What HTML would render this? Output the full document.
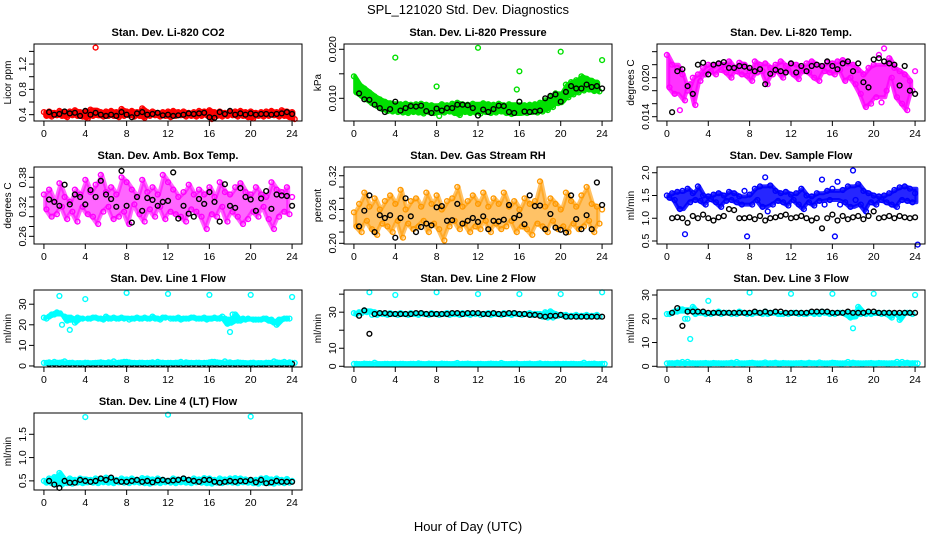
<!DOCTYPE html>
<html><head><meta charset="utf-8"><style>
body{margin:0;background:#fff;}
svg{display:block;font-family:"Liberation Sans",sans-serif;}
</style></head><body>
<svg id="fig" width="936" height="540" viewBox="0 0 936 540">
<text x="468" y="14" text-anchor="middle" font-size="13">SPL_121020  Std. Dev. Diagnostics</text>
<text x="468" y="531" text-anchor="middle" font-size="13">Hour of Day (UTC)</text>
</svg>
<script>
// ---- data (step 0.5 h; series A starts at 0 h, B at 0.25 h, black at 0.5 h) ----
const xTicks=[0,4,8,12,16,20,24];
const co2A=[0.44,0.45,0.43,0.46,0.44,0.45,0.47,0.44,0.45,0.48,1.46,0.44,0.45,0.46,0.44,0.49,0.45,0.46,0.44,0.50,0.44,0.45,0.43,0.44,0.45,0.46,0.44,0.45,0.43,0.44,0.46,0.45,0.47,0.44,0.45,0.43,0.44,0.45,0.46,0.44,0.45,0.43,0.44,0.45,0.46,0.44,0.47,0.45,0.44];
const co2B=[0.38,0.37,0.39,0.38,0.36,0.39,0.38,0.37,0.34,0.38,0.39,0.37,0.38,0.38,0.36,0.38,0.39,0.37,0.38,0.35,0.38,0.39,0.37,0.38,0.36,0.38,0.39,0.37,0.38,0.37,0.38,0.39,0.33,0.38,0.37,0.38,0.39,0.37,0.38,0.36,0.34,0.38,0.37,0.38,0.39,0.37,0.38,0.36,0.33];
const co2K=[0.44,0.40,0.41,0.45,0.42,0.43,0.38,0.46,0.40,0.43,0.40,0.38,0.40,0.38,0.44,0.40,0.36,0.42,0.44,0.40,0.41,0.43,0.39,0.40,0.38,0.39,0.40,0.42,0.41,0.42,0.43,0.36,0.35,0.44,0.41,0.46,0.40,0.42,0.40,0.42,0.40,0.41,0.41,0.40,0.41,0.42,0.44,0.41];
const presA=[0.0145,0.0128,0.0120,0.0112,0.0104,0.0098,0.0093,0.0090,0.0183,0.0088,0.0089,0.0087,0.0088,0.0089,0.0087,0.0086,0.0124,0.0088,0.0086,0.0089,0.0091,0.0088,0.0087,0.0089,0.0203,0.0090,0.0088,0.0087,0.0089,0.0086,0.0088,0.0085,0.0155,0.0086,0.0087,0.0088,0.0091,0.0096,0.0102,0.0110,0.0195,0.0128,0.0133,0.0137,0.0145,0.0140,0.0136,0.0132,0.0178];
const presB=[0.0112,0.0105,0.0098,0.0090,0.0084,0.0078,0.0074,0.0073,0.0072,0.0071,0.0070,0.0072,0.0071,0.0069,0.0072,0.0070,0.0064,0.0071,0.0073,0.0070,0.0066,0.0072,0.0070,0.0071,0.0069,0.0072,0.0070,0.0071,0.0073,0.0070,0.0068,0.0118,0.0071,0.0070,0.0072,0.0071,0.0073,0.0076,0.0082,0.0090,0.0096,0.0102,0.0108,0.0112,0.0116,0.0118,0.0115,0.0114];
const presK=[0.0110,0.0098,0.0097,0.0087,0.0080,0.0072,0.0078,0.0093,0.0075,0.0080,0.0084,0.0083,0.0085,0.0074,0.0070,0.0079,0.0075,0.0080,0.0080,0.0087,0.0087,0.0086,0.0080,0.0065,0.0077,0.0072,0.0078,0.0085,0.0084,0.0072,0.0070,0.0093,0.0073,0.0072,0.0073,0.0075,0.0100,0.0105,0.0108,0.0093,0.0113,0.0125,0.0120,0.0120,0.0128,0.0123,0.0125,0.0120];
const tempA=[0.0235,0.0220,0.0215,0.0205,0.0180,0.0200,0.0205,0.0215,0.0220,0.0218,0.0222,0.0220,0.0225,0.0215,0.0223,0.0220,0.0210,0.0225,0.0220,0.0222,0.0215,0.0220,0.0225,0.0218,0.0222,0.0220,0.0215,0.0222,0.0225,0.0220,0.0218,0.0223,0.0222,0.0225,0.0227,0.0222,0.0220,0.0212,0.0205,0.0215,0.0220,0.0235,0.0245,0.0230,0.0215,0.0210,0.0205,0.0195,0.0210];
const tempB=[0.0185,0.0175,0.0150,0.0165,0.0190,0.0158,0.0195,0.0205,0.0210,0.0205,0.0212,0.0208,0.0200,0.0210,0.0205,0.0203,0.0195,0.0208,0.0210,0.0190,0.0205,0.0210,0.0200,0.0212,0.0205,0.0198,0.0210,0.0208,0.0200,0.0195,0.0210,0.0208,0.0205,0.0212,0.0195,0.0200,0.0190,0.0175,0.0155,0.0160,0.0170,0.0162,0.0180,0.0200,0.0170,0.0160,0.0150,0.0180];
const tempK=[0.0147,0.0210,0.0213,0.0187,0.0175,0.0220,0.0223,0.0205,0.0220,0.0222,0.0224,0.0215,0.0215,0.0218,0.0217,0.0215,0.0210,0.0213,0.0190,0.0206,0.0212,0.0210,0.0208,0.0222,0.0208,0.0218,0.0210,0.0218,0.0220,0.0218,0.0225,0.0218,0.0213,0.0222,0.0225,0.0210,0.0222,0.0193,0.0185,0.0228,0.0230,0.0225,0.0222,0.0220,0.0188,0.0218,0.0180,0.0175];
const ambA=[0.345,0.355,0.330,0.368,0.340,0.330,0.355,0.345,0.375,0.350,0.365,0.385,0.350,0.360,0.345,0.380,0.370,0.355,0.340,0.375,0.350,0.360,0.345,0.385,0.370,0.355,0.340,0.350,0.365,0.345,0.355,0.345,0.360,0.340,0.370,0.350,0.345,0.360,0.368,0.350,0.345,0.360,0.345,0.340,0.370,0.355,0.350,0.360,0.340];
const ambB=[0.315,0.300,0.305,0.320,0.295,0.310,0.290,0.320,0.305,0.300,0.285,0.310,0.320,0.295,0.300,0.310,0.285,0.325,0.305,0.290,0.315,0.300,0.320,0.295,0.310,0.305,0.300,0.290,0.315,0.310,0.300,0.275,0.305,0.300,0.320,0.290,0.310,0.300,0.285,0.295,0.310,0.300,0.320,0.295,0.275,0.300,0.310,0.305];
const ambK=[0.335,0.330,0.322,0.365,0.325,0.345,0.340,0.325,0.354,0.340,0.373,0.345,0.336,0.320,0.393,0.322,0.288,0.340,0.312,0.338,0.334,0.322,0.330,0.332,0.390,0.296,0.322,0.306,0.300,0.336,0.326,0.350,0.330,0.290,0.366,0.322,0.318,0.358,0.340,0.335,0.312,0.337,0.352,0.316,0.345,0.343,0.342,0.322];
const rhA=[0.255,0.270,0.290,0.265,0.280,0.260,0.275,0.285,0.270,0.295,0.260,0.275,0.280,0.265,0.290,0.270,0.285,0.260,0.275,0.280,0.300,0.265,0.275,0.285,0.270,0.290,0.265,0.280,0.270,0.290,0.265,0.275,0.260,0.280,0.270,0.275,0.310,0.265,0.280,0.270,0.260,0.290,0.275,0.265,0.285,0.300,0.270,0.265,0.260];
const rhB=[0.230,0.220,0.240,0.225,0.215,0.235,0.230,0.220,0.240,0.210,0.235,0.225,0.230,0.240,0.220,0.235,0.225,0.205,0.230,0.240,0.225,0.235,0.220,0.230,0.225,0.240,0.220,0.235,0.225,0.230,0.240,0.220,0.230,0.225,0.215,0.235,0.230,0.220,0.240,0.225,0.230,0.220,0.235,0.225,0.230,0.240,0.220,0.235];
const rhK=[0.230,0.258,0.285,0.220,0.250,0.245,0.250,0.210,0.245,0.280,0.248,0.220,0.229,0.235,0.232,0.264,0.266,0.240,0.241,0.270,0.235,0.240,0.245,0.238,0.248,0.225,0.240,0.239,0.242,0.268,0.245,0.250,0.234,0.285,0.266,0.267,0.225,0.252,0.228,0.224,0.219,0.285,0.243,0.225,0.250,0.225,0.308,0.268];
const sfA=[1.50,1.55,1.58,1.60,1.65,1.55,1.70,1.50,1.48,1.52,1.55,1.50,1.58,1.55,1.48,1.60,1.52,1.65,1.70,1.90,1.72,1.60,1.55,1.58,1.52,1.55,1.65,1.50,1.48,1.55,1.85,1.60,1.65,1.80,1.62,1.70,2.05,1.75,1.60,1.55,1.50,1.48,1.50,1.55,1.62,1.68,1.70,1.65,1.55];
const sfB=[1.45,1.40,1.20,0.65,1.35,1.40,1.38,1.30,1.42,1.35,1.25,1.38,1.40,1.35,1.30,0.60,1.30,1.40,1.25,1.15,1.30,1.38,1.35,1.28,1.40,1.30,1.20,1.35,1.28,1.38,1.30,1.40,0.60,1.30,1.35,1.25,1.40,1.30,1.15,1.35,1.30,1.40,1.35,1.30,1.25,1.40,1.38,1.35,0.42];
const sfK=[1.00,1.02,1.00,0.90,1.05,1.00,1.08,1.00,0.95,1.02,1.05,1.20,1.18,1.00,1.00,1.02,0.98,1.05,0.95,1.00,1.02,1.05,1.08,1.00,1.02,1.05,1.00,0.95,1.00,0.78,1.00,1.08,0.95,1.05,0.98,1.02,1.05,0.98,1.05,1.15,1.00,1.02,1.05,1.00,1.05,1.02,1.00,1.02];
const l1A=[23.5,24,25,34,24,17.5,21,23,32.5,23,23.5,23,24,23,23,23.5,35.5,23,23.5,23,23,24,23,23.5,35,23,23.5,23,23,23.5,23,23.5,34.5,23.5,23,23,16.5,25,22,22.5,34.5,22.5,22.5,23,22.5,20,22.5,23,33.5];
const l1B=[23,25,26,20,22,23,23.5,23,23,23.5,23,22.5,23,23.5,23,23,22.5,23,23,23.5,23,23,22.5,23.5,23,23,22.5,23,23.5,23,23,22.5,23,23,24,20.5,25,22,23,23,22.5,22.5,23,22,21,22.5,23,23];
const l1Low=[1.5,1.8,2.0,1.6,2.2,1.5,1.2,1.4,1.6,1.3,1.5,1.8,1.4,1.6,1.5,1.8,2.0,1.5,1.4,1.6,1.5,1.8,2.0,1.6,1.5,1.4,1.6,1.3,1.5,1.4,1.6,1.5,1.8,2.0,1.6,2.2,1.8,1.5,1.6,1.4,1.5,1.3,1.4,1.6,1.5,1.8,1.6,1.4,1.5];
const l1K=[1.0,1.1,0.9,1.0,1.0,1.1,1.0,0.9,1.0,1.0,1.1,1.0,1.0,0.9,1.0,1.1,1.0,1.0,1.0,0.9,1.0,1.1,1.0,1.0,1.0,1.0,0.9,1.0,1.1,1.0,1.2,1.0,1.0,0.9,1.0,1.1,1.0,1.0,1.0,1.0,0.9,1.0,1.0,1.1,1.0,1.0,1.0,1.0];
const l2A=[29.5,30,31,41,30,29.5,29,29.5,39.5,29.5,29,29.5,29,29.5,29,29.5,41,29,29.5,29,29,29.5,29,29.5,40,29,29.5,29,29,29.5,29,29.5,40,29,29.5,29,29,30,30.5,29,40,28.5,28,28.5,28,28.5,28,28.5,41];
const l2B=[29,29.5,30,28.5,28.5,29,28.5,29,28.5,29,28.5,29,28.5,29,28.5,29,28.5,29,28.5,29,28.5,29,28.5,29,28.5,29,28.5,29,28.5,29,28.5,29,28.5,29,28.5,29,27.5,27,27,28,28,27.5,28,27.5,28,27.5,28,27.5];
const l2Low=[1.3,1.2,1.5,1.3,2.0,1.2,1.3,1.2,1.4,1.3,1.2,1.3,1.2,1.3,1.2,1.3,1.2,1.5,1.3,1.2,1.8,1.3,1.5,1.2,1.3,1.2,1.3,1.4,1.2,1.3,1.2,1.3,1.2,1.3,1.5,1.2,1.6,1.3,1.2,1.3,1.2,1.4,1.3,1.2,1.3,1.2,1.3,1.2,1.3];
const l2K=[28,31,18,29,29.5,29.5,29,29,29,29,29,29.5,29.5,29,29,29,29,29,29.5,29.5,29,29.5,29.5,29.5,29,29,29.5,29,29,29.5,29.5,29,29,28.5,28.5,28,27.5,28,28,28.5,27.5,27.5,27.5,27.5,27.5,27.5,27.5,27.5];
const l3A=[22,22.5,23,24,20,25,22.5,22.5,27.5,22.5,23,22.5,22.5,22.5,23,22.5,31,22.5,22.5,23,22.5,22.5,22,22.5,30.5,22.5,22.5,22,22.5,22.5,23,22.5,30.5,22.5,22.5,22.5,16,25,22.5,22.5,30.5,22.5,22.5,22.5,22,19.5,22.5,22.5,30];
const l3B=[22,23,24,20,11.5,22,22.5,22,22,22.5,22,22.5,22,22,22.5,22,22,22.5,22,22,22.5,22,22,22,22.5,22,22,22.5,22,22,22.5,22,22,22.5,22,20.5,21,22,22,22,22.5,22,22,20.5,22,22,22.5,22];
const l3Low=[1.2,1.3,1.5,1.8,1.9,1.3,1.2,1.3,1.2,1.4,1.3,1.2,1.3,1.2,1.3,1.2,1.4,1.3,1.2,1.6,1.3,1.5,1.2,1.3,1.2,1.3,1.4,1.2,1.3,1.2,1.3,1.2,1.5,1.3,1.2,1.8,1.5,1.3,1.2,1.3,1.2,1.4,1.3,1.2,1.3,1.2,1.3,1.2,1.3];
const l3K=[22.5,24.5,17,23,23,23,23,22.5,22.5,22.5,22.5,22.5,22.5,22.5,22.5,22.5,23,22.5,23,22.5,23,23,22.5,22.5,22.5,22.5,22.5,23,23,23,23,22.5,22.5,22.5,23,22.5,22.5,22.5,23,23,22.5,22.5,22.5,22.5,22.5,22.5,22.5,22.5];
const l4A=[0.50,0.55,0.58,0.67,0.52,0.55,0.52,0.55,1.87,0.52,0.55,0.53,0.57,0.55,0.52,0.55,0.53,0.55,0.52,0.56,0.55,0.53,0.55,0.52,1.92,0.55,0.53,0.55,0.52,0.55,0.53,0.56,0.55,0.52,0.55,0.53,0.55,0.56,0.55,0.53,1.88,0.52,0.55,0.56,0.53,0.55,0.52,0.54,0.50];
const l4B=[0.46,0.45,0.43,0.42,0.45,0.44,0.46,0.45,0.47,0.46,0.45,0.47,0.46,0.45,0.47,0.46,0.45,0.47,0.46,0.45,0.44,0.46,0.45,0.47,0.46,0.45,0.47,0.46,0.45,0.47,0.46,0.45,0.44,0.46,0.45,0.47,0.46,0.45,0.47,0.46,0.45,0.44,0.46,0.45,0.44,0.46,0.45,0.46];
const l4K=[0.50,0.42,0.35,0.50,0.46,0.46,0.52,0.50,0.48,0.50,0.55,0.52,0.57,0.50,0.48,0.48,0.50,0.52,0.48,0.50,0.47,0.51,0.52,0.50,0.51,0.52,0.55,0.52,0.50,0.48,0.52,0.52,0.48,0.46,0.48,0.50,0.48,0.50,0.49,0.52,0.47,0.52,0.45,0.47,0.50,0.48,0.48,0.48];

const panels=[
 {name:'co2',title:'Stan. Dev. Li-820 CO2',ylab:'Licor ppm',col:0,row:0,y0:0.30,y1:1.517,ticks:[0.4,0.6,0.8,1.0,1.2,1.4],labels:[0.4,0.8,1.2],fmt:1,color:'#ff0000',series:[co2A,co2B],low:null,blk:co2K,lim:0.2,op:1},
 {name:'pressure',title:'Stan. Dev. Li-820 Pressure',ylab:'kPa',col:1,row:0,y0:0.00537,y1:0.02108,ticks:[0.010,0.015,0.020],labels:[0.010,0.020],fmt:3,color:'#00e000',series:[presA,presB],low:null,blk:presK,lim:0.003,op:1},
 {name:'temp',title:'Stan. Dev. Li-820 Temp.',ylab:'degrees C',col:2,row:0,y0:0.01334,y1:0.02518,ticks:[0.014,0.016,0.018,0.020,0.022,0.024],labels:[0.014,0.020],fmt:3,color:'#ff00ff',series:[tempA,tempB],low:null,blk:tempK,lim:0.006,op:0.8},
 {name:'amb-box-temp',title:'Stan. Dev. Amb. Box Temp.',ylab:'degrees C',col:0,row:1,y0:0.2444,y1:0.401,ticks:[0.26,0.28,0.30,0.32,0.34,0.36,0.38],labels:[0.26,0.32,0.38],fmt:2,color:'#ff00ff',series:[ambA,ambB],low:null,blk:ambK,lim:0.1,op:0.6},
 {name:'gas-rh',title:'Stan. Dev. Gas Stream RH',ylab:'percent',col:1,row:1,y0:0.1988,y1:0.3355,ticks:[0.20,0.22,0.24,0.26,0.28,0.30,0.32],labels:[0.20,0.26,0.32],fmt:2,color:'#ff9900',series:[rhA,rhB],low:null,blk:rhK,lim:0.1,op:0.6},
 {name:'sample-flow',title:'Stan. Dev. Sample Flow',ylab:'ml/min',col:2,row:1,y0:0.434,y1:2.126,ticks:[0.5,1.0,1.5,2.0],labels:[0.5,1.0,1.5,2.0],fmt:1,color:'#0000ff',series:[sfA,sfB],low:null,blk:sfK,lim:0.5,op:0.85},
 {name:'line1-flow',title:'Stan. Dev. Line 1 Flow',ylab:'ml/min',col:0,row:2,y0:-0.5,y1:36.9,ticks:[0,10,20,30],labels:[0,10,20,30],fmt:0,color:'#00ffff',series:[l1A,l1B],low:l1Low,blk:l1K,lim:4,op:1},
 {name:'line2-flow',title:'Stan. Dev. Line 2 Flow',ylab:'ml/min',col:1,row:2,y0:-0.4,y1:42.3,ticks:[0,10,20,30,40],labels:[0,10,30],fmt:0,color:'#00ffff',series:[l2A,l2B],low:l2Low,blk:l2K,lim:4,op:1},
 {name:'line3-flow',title:'Stan. Dev. Line 3 Flow',ylab:'ml/min',col:2,row:2,y0:-0.3,y1:32.1,ticks:[0,10,20,30],labels:[0,10,20,30],fmt:0,color:'#00ffff',series:[l3A,l3B],low:l3Low,blk:l3K,lim:4,op:1},
 {name:'line4-flow',title:'Stan. Dev. Line 4 (LT) Flow',ylab:'ml/min',col:0,row:3,y0:0.304,y1:1.957,ticks:[0.5,1.0,1.5],labels:[0.5,1.0,1.5],fmt:1,color:'#00ffff',series:[l4A,l4B],low:null,blk:l4K,lim:0.3,op:1}
];
const colLeft=[34,344,657], colW=268, rowTop=[44,167,290,413], boxH=77;
const NS='http://www.w3.org/2000/svg';
const fig=document.getElementById('fig');
function mk(tag,attrs,parent){const e=document.createElementNS(NS,tag);for(const k in attrs)e.setAttribute(k,attrs[k]);parent.appendChild(e);return e;}
panels.forEach(p=>{
  const L=colLeft[p.col],T=rowTop[p.row],R=L+colW,B=T+boxH;
  const g=mk('g',{},fig);
  
  
  const xs=v=>L+(v+0.96)/25.92*colW;
  const ys=v=>B-(v-p.y0)/(p.y1-p.y0)*boxH;
  const t=mk('text',{x:(L+R)/2,y:T-8,'text-anchor':'middle','font-size':'11','font-weight':'bold'},g);
  t.textContent=p.title;
  
  
  const yl=mk('text',{x:0,y:0,'text-anchor':'middle','font-size':'10',transform:`translate(${L-23},${(T+B)/2}) rotate(-90)`},g);
  yl.textContent=p.ylab;
  
  
  const A=p.series[0],Bs=p.series[1],n=Math.min(A.length,Bs.length);
  const top=[],bot=[];
  let la=null,lb=null;
  for(let i=0;i<n;i++){
    if(Math.abs(A[i]-Bs[i])<p.lim||la===null){la=A[i];lb=Bs[i];}
    const x=xs(i*0.5+0.125);
    top.push(x.toFixed(1)+','+ys(la).toFixed(1));
    bot.push(x.toFixed(1)+','+ys(lb).toFixed(1));
  }
  const area=mk('polygon',{points:top.concat(bot.reverse()).join(' '),fill:p.color,'fill-opacity':p.op,stroke:p.color,'stroke-width':'4','stroke-opacity':p.op,'stroke-linejoin':'round'},g);
  
  
  const pts=mk('g',{fill:'none','stroke-width':'1.4'},g);
  
  
  function draw(arr,start,color){arr.forEach((v,i)=>{const c=mk('circle',{cx:xs(start+i*0.5).toFixed(1),cy:ys(v).toFixed(1),r:2.4,stroke:color},pts);
    
    });}
  draw(p.series[0],0,p.color);
  draw(p.series[1],0.25,p.color);
  if(p.low){draw(p.low,0,p.color);draw(p.low.slice().reverse(),0.25,p.color);
    const lbg=mk('g',{stroke:p.color,'stroke-width':'5'},g);
    
    
    mk('line',{x1:xs(0),x2:xs(24),y1:ys(p.low[0]),y2:ys(p.low[0])},lbg);}
  draw(p.blk,0.5,'#000');
  const box=mk('rect',{x:L,y:T,width:colW,height:boxH,fill:'none',stroke:'#000','stroke-width':'1'},g);
  
  
  xTicks.forEach(v=>{const x=xs(v);mk('line',{x1:x,x2:x,y1:B,y2:B+5,stroke:'#000'},g);
    const tx=mk('text',{x:x,y:B+16,'text-anchor':'middle','font-size':'10.5'},g);tx.textContent=v;
    
    });
  p.ticks.forEach(v=>{const y=ys(v);mk('line',{x1:L-5,x2:L,y1:y,y2:y,stroke:'#000'},g);});
  p.labels.forEach(v=>{const y=ys(v);const ty=mk('text',{x:0,y:0,'text-anchor':'middle','font-size':'10.5',transform:`translate(${L-8},${y}) rotate(-90)`},g);ty.textContent=v.toFixed(p.fmt);
    
    });
});
</script>
</body></html>
